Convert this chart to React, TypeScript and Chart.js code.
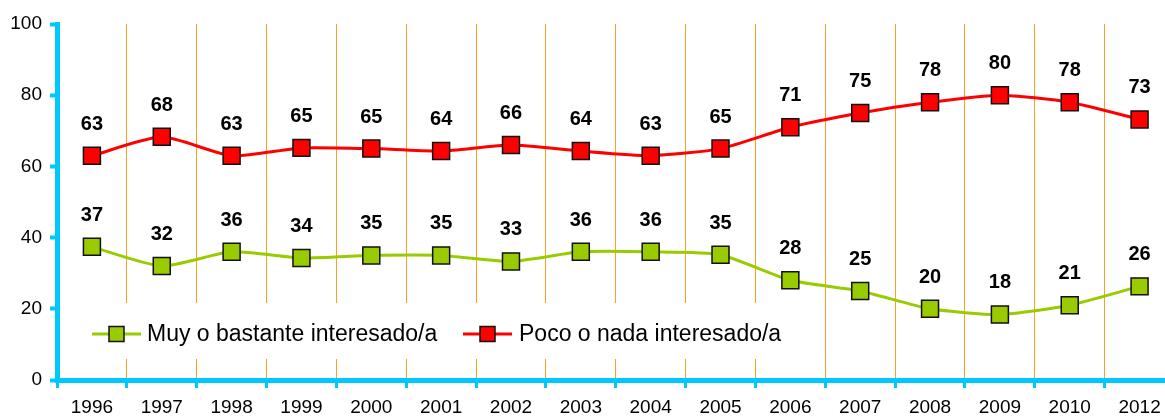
import React, { useEffect, useRef } from "react";
import { Chart, registerables } from "chart.js";

Chart.register(...registerables);

const years = ["1996", "1997", "1998", "1999", "2000", "2001", "2002", "2003", "2004", "2005", "2006", "2007", "2008", "2009", "2010", "2012"];
const muyBastante = [37.4, 32, 36, 34.3, 35, 35, 33.3, 36, 36, 35.2, 28, 25, 20, 18.4, 21, 26.3];
const pocoNada = [63, 68.3, 63, 65.2, 65, 64.3, 66, 64.3, 63, 65, 71, 75, 78, 80, 78, 73.2];
const seriesNames = ["Muy o bastante interesado/a", "Poco o nada interesado/a"];
const yTicks = [0, 20, 40, 60, 80, 100];

const GREEN = "#99CC00";
const RED = "#FF0000";
const CYAN = "#00C8FF";
const ORANGE = "#FFA020";
const FONT = "Arial, 'Liberation Sans', sans-serif";

const legendBox = { x: 60, y: 303, w: 730, h: 56 };
const legendItems = [
  { lineX: 92, color: GREEN, textX: 147 },
  { lineX: 463, color: RED, textX: 519 },
];

const legendCover = {
  id: "legendCover",
  beforeDatasetsDraw(chart: any) {
    const ctx = chart.ctx;
    ctx.save();
    ctx.fillStyle = "#ffffff";
    ctx.fillRect(legendBox.x, legendBox.y, legendBox.w, legendBox.h);
    ctx.restore();
  },
  afterDraw(chart: any) {
    const ctx = chart.ctx;
    ctx.save();
    const cy = 334;
    legendItems.forEach((it, i) => {
      ctx.strokeStyle = it.color;
      ctx.lineWidth = 3;
      ctx.beginPath();
      ctx.moveTo(it.lineX, cy);
      ctx.lineTo(it.lineX + 49, cy);
      ctx.stroke();
      ctx.fillStyle = it.color;
      ctx.fillRect(it.lineX + 17, cy - 7.5, 15, 15);
      ctx.strokeStyle = "#111";
      ctx.lineWidth = 1.5;
      ctx.strokeRect(it.lineX + 17, cy - 7.5, 15, 15);
      ctx.fillStyle = "#000";
      ctx.font = `23px ${FONT}`;
      ctx.textAlign = "left";
      ctx.textBaseline = "alphabetic";
      ctx.fillText(seriesNames[i], it.textX, 341);
    });
    ctx.restore();
  },
};

const dataLabels = {
  id: "dataLabels",
  afterDatasetsDraw(chart: any) {
    const ctx = chart.ctx;
    ctx.save();
    ctx.fillStyle = "#000";
    ctx.font = `bold 20px ${FONT}`;
    ctx.textAlign = "center";
    ctx.textBaseline = "alphabetic";
    chart.data.datasets.forEach((ds: any, di: number) => {
      const meta = chart.getDatasetMeta(di);
      meta.data.forEach((pt: any, i: number) => {
        ctx.fillText(String(Math.round(ds.data[i])), pt.x, pt.y - 26);
      });
    });
    ctx.restore();
  },
};

export default function App() {
  const ref = useRef<HTMLCanvasElement>(null);
  useEffect(() => {
    if (!ref.current) return;
    const chart = new Chart(ref.current, {
      type: "line",
      data: {
        labels: years,
        datasets: [
          {
            label: seriesNames[0],
            data: muyBastante,
            borderColor: GREEN,
            backgroundColor: GREEN,
            borderWidth: 3,
            pointStyle: "rect",
            pointRadius: 12,
            pointBackgroundColor: GREEN,
            pointBorderColor: "#111",
            pointBorderWidth: 1.5,
            tension: 0.2,
            clip: false as any,
          },
          {
            label: seriesNames[1],
            data: pocoNada,
            borderColor: RED,
            backgroundColor: RED,
            borderWidth: 3,
            pointStyle: "rect",
            pointRadius: 12,
            pointBackgroundColor: RED,
            pointBorderColor: "#111",
            pointBorderWidth: 1.5,
            tension: 0.2,
            clip: false as any,
          },
        ],
      },
      options: {
        responsive: false,
        animation: false,
        layout: { padding: { top: 24, right: 6, left: 0, bottom: 0 } },
        plugins: { legend: { display: false }, tooltip: { enabled: false } },
        scales: {
          x: {
            type: "category",
            offset: true,
            grid: {
              offset: true,
              color: ORANGE,
              lineWidth: 1,
              drawOnChartArea: true,
              drawTicks: true,
              tickColor: CYAN,
              tickWidth: 3,
              tickLength: 8,
            },
            border: { display: true, color: CYAN, width: 5 },
            ticks: { color: "#000", font: { family: FONT, size: 19 }, padding: 8, maxRotation: 0, autoSkip: false },
            afterFit(scale: any) {
              scale.height = 38;
            },
          },
          y: {
            min: 0,
            max: 100,
            afterBuildTicks(scale: any) {
              scale.ticks = yTicks.map((v) => ({ value: v }));
            },
            grid: {
              drawOnChartArea: false,
              drawTicks: true,
              tickColor: CYAN,
              tickWidth: 4,
              tickLength: 7,
            },
            border: { display: true, color: CYAN, width: 5 },
            ticks: { color: "#000", font: { family: FONT, size: 19 }, padding: 8 },
            afterFit(scale: any) {
              scale.width = 57;
            },
          },
        },
      },
      plugins: [legendCover, dataLabels],
    });
    return () => chart.destroy();
  }, []);
  return (
    <div style={{ position: "fixed", left: 0, top: 0, width: 1165, height: 418, overflow: "hidden", background: "#fff" }}>
      <canvas ref={ref} width={1188} height={418} style={{ width: 1188, height: 418, display: "block" }} />
    </div>
  );
}
